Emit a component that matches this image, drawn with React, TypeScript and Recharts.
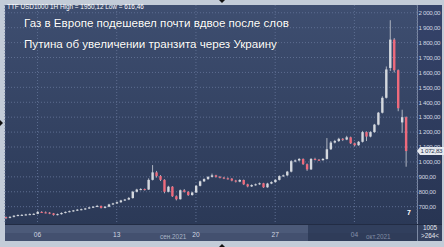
import React from 'react';
import { ComposedChart, Bar, XAxis, YAxis, CartesianGrid, ReferenceLine } from 'recharts';

// hourly-ish candles, index 0 = Mon 06 Sep
const opens = [630,626,632,640,644,645,648,650,652,665,662,660,655,645,650,658,665,670,675,680,683,688,695,700,705,692,700,715,722,730,742,748,758,800,815,818,815,880,930,905,880,800,834,770,750,810,800,778,795,840,870,885,900,910,900,895,890,888,875,868,879,850,836,845,850,857,830,855,865,880,905,910,935,1005,1010,1020,985,950,1020,1015,1012,1020,1085,1130,1140,1155,1150,1165,1125,1112,1135,1200,1170,1200,1250,1330,1430,1630,1820,1615,1265,1300];
const highs = [634,636,642,648,650,652,655,656,672,670,668,664,658,654,662,668,674,678,684,687,692,699,704,712,708,704,719,726,735,746,752,765,806,820,824,822,890,979,940,912,884,840,838,776,815,818,804,800,845,875,890,904,922,914,906,900,896,892,880,884,882,854,850,855,862,860,860,870,884,910,915,940,1012,1016,1026,1024,990,1026,1028,1020,1026,1160,1140,1148,1162,1160,1175,1170,1130,1140,1208,1205,1206,1255,1335,1440,1640,1950.12,1830,1620,1350,1305];
const lows = [616.46,622,628,636,640,641,644,646,650,658,655,650,640,642,647,655,662,666,671,676,679,685,691,697,688,689,697,711,718,726,738,744,754,796,810,808,812,876,895,872,790,796,765,742,748,795,772,774,792,836,866,880,896,895,890,885,882,870,862,864,845,830,832,841,846,826,827,851,861,876,900,906,930,998,1004,980,940,946,1010,1006,1008,1016,1080,1124,1134,1140,1146,1120,1105,1108,1130,1140,1165,1195,1245,1325,1425,1610,1600,1340,1195,968];
const closes = [626,632,640,644,645,648,650,652,665,662,660,655,645,650,658,665,670,675,680,683,688,695,700,705,692,700,715,722,730,742,748,758,800,815,818,815,880,930,905,880,800,834,770,750,810,800,778,795,840,870,885,900,910,900,895,890,888,875,868,879,850,836,845,850,857,830,855,865,880,905,910,935,1005,1010,1020,985,950,1020,1015,1012,1020,1085,1130,1140,1155,1150,1165,1125,1112,1135,1200,1170,1200,1250,1330,1430,1620,1820,1615,1360,1300,1072.83];

const dayTicks = [0, 20, 40, 60, 80];
const dayLabels = ['06', '13', '20', '27', '04'];
const monthLabels = ['сен.2021', 'окт.2021'];
const priceTicks = [700, 800, 900, 1000, 1100, 1200, 1300, 1400, 1500, 1600, 1700, 1800, 1900, 2000];
const headerText = 'TTF USD1000 1H High = 1950,12 Low = 616,46';
const titleLines = ['Газ в Европе подешевел почти вдвое после слов', 'Путина об увеличении транзита через Украину'];
const lastPrice = 1072.83;
const lastPriceLabel = '1 072,83';

const data = closes.map((c, k) => ({ t: k - 8, o: opens[k], h: highs[k], l: lows[k], c }));

const fmtPrice = (v: number) =>
  v >= 1000 ? `${Math.floor(v / 1000)} ${String(v % 1000).padStart(3, '0')},00` : `${v},00`;

const FONT = '"Liberation Sans", Arial, sans-serif';

const Candle = (p: any) => {
  const { x, width, payload } = p;
  let { y, height } = p;
  if (height < 0) { y = y + height; height = -height; }
  const { o, h, l, c } = payload;
  const range = h - l || 1;
  const k = height / range;
  const yOf = (v: number) => y + (h - v) * k;
  const up = c >= o;
  const cx = x + width / 2;
  const top = yOf(Math.max(o, c));
  const bot = yOf(Math.min(o, c));
  return (
    <g>
      <line x1={cx} x2={cx} y1={y} y2={y + height} stroke="#aeb4c0" strokeWidth={1} />
      <rect x={x} y={top} width={width} height={Math.max(1, bot - top)} fill={up ? '#d4d8de' : '#ee6a7c'} />
    </g>
  );
};

const XTick = (p: any) => {
  const { x, y, payload } = p;
  const i = dayTicks.indexOf(payload.value);
  return (
    <text x={x} y={y + 5} textAnchor="middle" fontSize={6.6} fontFamily={FONT} fill={i === 4 ? '#8794ad' : '#d0d6e0'}>
      {dayLabels[i]}
    </text>
  );
};

const YTick = (p: any) => {
  const { x, y, payload } = p;
  return (
    <text x={x + 1.5} y={y + 2.3} textAnchor="start" fontSize={6.2} letterSpacing={-0.3} fontFamily={FONT} fill="#d0d6e0">
      {fmtPrice(payload.value)}
    </text>
  );
};

const PriceLabel = (p: any) => {
  const vb = p.viewBox || {};
  const x0 = vb.x + vb.width;
  const y0 = vb.y;
  return (
    <g>
      <polygon points={`${x0},${y0} ${x0 + 3},${y0 - 4} ${x0 + 27},${y0 - 4} ${x0 + 27},${y0 + 4} ${x0 + 3},${y0 + 4}`} fill="#e6eaf0" />
      <text x={x0 + 3.5} y={y0 + 2.3} fontSize={6.2} letterSpacing={-0.3} fontFamily={FONT} fill="#28324c">{lastPriceLabel}</text>
    </g>
  );
};

const tri = (style: React.CSSProperties) => <div style={{ position: 'absolute', width: 0, height: 0, ...style }} />;

export default function App() {
  return (
    <div style={{ position: 'absolute', left: 0, top: 0, width: 444, height: 247, background: '#c3ccd8', overflow: 'hidden', fontFamily: FONT }}>
      <div style={{ position: 'absolute', left: 5, top: 5, width: 412, height: 219, background: 'linear-gradient(#3e4e70, #2b3957)' }} />
      <div style={{ position: 'absolute', left: 417, top: 5, width: 25, height: 219, background: 'linear-gradient(#35436a, #283553)', borderLeft: '1px solid #7c89a3', boxSizing: 'border-box' }} />
      <div style={{ position: 'absolute', left: 5, top: 224, width: 303, height: 9, background: '#4c5a79' }} />
      <div style={{ position: 'absolute', left: 308, top: 224, width: 109, height: 9, background: '#313f5d' }} />
      <div style={{ position: 'absolute', left: 5, top: 233, width: 303, height: 8, background: '#43506f' }} />
      <div style={{ position: 'absolute', left: 308, top: 233, width: 109, height: 8, background: '#2f3c59' }} />
      <div style={{ position: 'absolute', left: 417, top: 224, width: 25, height: 17, background: '#34415f', borderLeft: '1px solid #7c89a3', boxSizing: 'border-box' }} />
      <div style={{ position: 'absolute', left: 5, top: 224, width: 437, height: 1, background: '#222c44' }} />
      <ComposedChart width={444} height={247} data={data} margin={{ top: 5, right: 2, bottom: 6, left: 5 }} style={{ position: 'absolute', left: 0, top: 0 }}>
        <CartesianGrid stroke="#5d6d90" strokeDasharray="1 2" horizontalValues={priceTicks} />
        <XAxis dataKey="t" type="number" domain={[-8.2, 95.8]} allowDataOverflow ticks={dayTicks} tick={<XTick />} tickLine={false} axisLine={false} height={17} interval={0} />
        <YAxis orientation="right" domain={[584, 2052]} allowDataOverflow ticks={priceTicks} tick={<YTick />} tickLine={false} axisLine={false} tickSize={0} tickMargin={0} width={25} interval={0} />
        <Bar dataKey={(d: any) => [d.l, d.h]} shape={<Candle />} barSize={2.4} isAnimationActive={false} />
        <ReferenceLine y={lastPrice} stroke="none" label={<PriceLabel />} ifOverflow="visible" />
      </ComposedChart>
      <div style={{ position: 'absolute', left: 7, top: 3, fontSize: 6.4, color: '#ffffff', whiteSpace: 'nowrap' }}>{headerText}</div>
      <div style={{ position: 'absolute', left: 24, top: 16, fontSize: 11.6, color: '#ffffff', whiteSpace: 'nowrap', textShadow: '0 0 1px rgba(0,0,0,0.4)' }}>{titleLines[0]}</div>
      <div style={{ position: 'absolute', left: 24, top: 37, fontSize: 11.6, color: '#ffffff', whiteSpace: 'nowrap', textShadow: '0 0 1px rgba(0,0,0,0.4)' }}>{titleLines[1]}</div>
      <div style={{ position: 'absolute', left: 160, top: 233, fontSize: 6.4, color: '#aab4c6', whiteSpace: 'nowrap' }}>{monthLabels[0]}</div>
      <div style={{ position: 'absolute', left: 366, top: 233, fontSize: 6.4, color: '#7f8ba2', whiteSpace: 'nowrap' }}>{monthLabels[1]}</div>
      <div style={{ position: 'absolute', left: 407, top: 209, fontSize: 7, fontWeight: 'bold', color: '#ffffff' }}>7</div>
      <div style={{ position: 'absolute', left: 418, top: 224, width: 24, textAlign: 'center', fontSize: 6.4, lineHeight: '8px', color: '#e4e8ee' }}>1005<br />&gt;264&lt;</div>
      {tri({ left: 219, top: 0, borderLeft: '3px solid transparent', borderRight: '3px solid transparent', borderTop: '3px solid #111' })}
      {tri({ left: 0, top: 120, borderTop: '3px solid transparent', borderBottom: '3px solid transparent', borderLeft: '3px solid #111' })}
      {tri({ left: 219, top: 244, borderLeft: '3px solid transparent', borderRight: '3px solid transparent', borderBottom: '3px solid #111' })}
    </div>
  );
}
